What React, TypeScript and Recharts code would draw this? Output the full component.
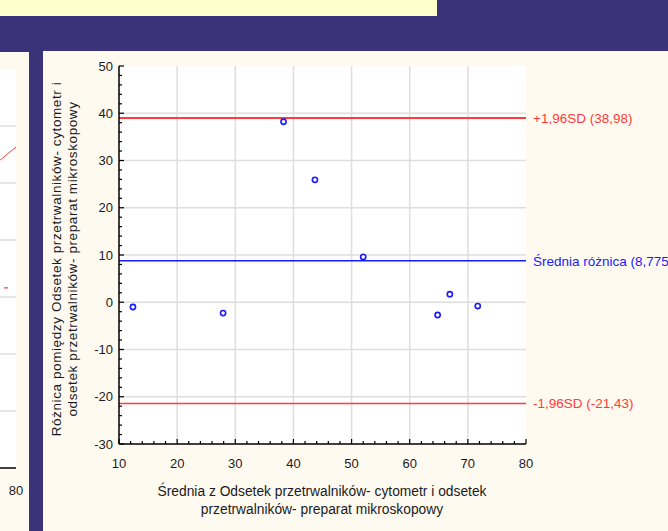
import React from "react";
import {
  ScatterChart,
  Scatter,
  LineChart,
  Line,
  XAxis,
  YAxis,
  ReferenceLine,
  ReferenceArea,
} from "recharts";

// Bland-Altman data: mean of the two methods vs difference
const meanValues = [12.4, 27.9, 38.3, 43.7, 52.0, 64.8, 66.9, 71.7];
const diffValues = [-1.0, -2.3, 38.2, 25.9, 9.6, -2.7, 1.7, -0.8];
const meanDiff = 8.775;
const upperLimit = 38.98;
const lowerLimit = -21.43;

const xDomain = [10, 80];
const yDomain = [-30, 50];
const xGridValues = [20, 30, 40, 50, 60, 70];
const yGridValues = [-20, -10, 0, 10, 20, 30, 40];
// minor ticks every 2 units, labels on multiples of 10
const xTicks = Array.from({ length: 36 }, (_, i) => 10 + 2 * i);
const yTicks = Array.from({ length: 41 }, (_, i) => -30 + 2 * i);

const upperLabel = "+1,96SD (38,98)";
const meanLabel = "Średnia różnica (8,775)";
const lowerLabel = "-1,96SD (-21,43)";
const xTitle = [
  "Średnia z Odsetek przetrwalników- cytometr i odsetek",
  "przetrwalników- preparat mikroskopowy",
];
const yTitle = [
  "Różnica pomiędzy Odsetek przetrwalników- cytometr i",
  "odsetek przetrwalników- preparat mikroskopowy",
];

// right edge of the neighbouring (cut off) chart
const leftFit = [
  { x: 70, y: 48.1 },
  { x: 80, y: 56.3 },
];
const leftDash = [
  { x: 77.9, y: 31.6 },
  { x: 78.6, y: 31.6 },
];
const leftGridValues = [10, 20, 30, 40, 50, 60];
const leftYTicks = Array.from({ length: 36 }, (_, i) => 2 * i);

const points = meanValues.map((m, i) => ({ x: m, y: diffValues[i] }));

const BG = "#3b3379";
const PANEL = "#fffaf0";
const GRID = "#dedede";
const RED = "#ff3b3b";
const BLUE = "#1a1aff";
const TEXT = "#1a1a24";
const FONT = '"Liberation Sans", Arial, sans-serif';

// plot box inside the main chart svg
const P = { left: 76, top: 15, right: 483, bottom: 393 };

const makeXTick = (edge: "top" | "bottom") => (props: any) => {
  const { x, payload } = props;
  const v = payload.value;
  const major = v % 10 === 0;
  const len = major ? 5 : 3;
  const y0 = edge === "bottom" ? P.bottom : P.top;
  const y1 = edge === "bottom" ? y0 - len : y0 + len;
  return (
    <g>
      <line x1={x} x2={x} y1={y0} y2={y1} stroke="#000" strokeWidth={1.2} />
      {edge === "bottom" && major && (
        <text
          x={x}
          y={P.bottom + 19}
          dy="0.35em"
          textAnchor="middle"
          fontSize={13}
          fontFamily={FONT}
          fill={TEXT}
        >
          {v}
        </text>
      )}
    </g>
  );
};

const makeYTick = (edge: "left" | "right", plotRight = P.right, withLabels = true) => (props: any) => {
  const { y, payload } = props;
  const v = payload.value;
  const major = v % 10 === 0;
  const len = major ? 5 : 3;
  const x0 = edge === "left" ? P.left : plotRight;
  const x1 = edge === "left" ? x0 + len : x0 - len;
  return (
    <g>
      <line x1={x0} x2={x1} y1={y} y2={y} stroke="#000" strokeWidth={1.2} />
      {edge === "left" && withLabels && major && (
        <text
          x={P.left - 6}
          y={y}
          dy="0.35em"
          textAnchor="end"
          fontSize={13}
          fontFamily={FONT}
          fill={TEXT}
        >
          {v}
        </text>
      )}
    </g>
  );
};

const XTitle = () => (
  <g>
    {xTitle.map((t, i) => (
      <text
        key={i}
        x={279}
        y={445 + i * 18}
        textAnchor="middle"
        fontSize={13.8}
        fontFamily={FONT}
        fill={TEXT}
      >
        {t}
      </text>
    ))}
  </g>
);

const YTitle = () => (
  <g>
    {yTitle.map((t, i) => {
      const cx = 13 + i * 16;
      const cy = 208;
      return (
        <text
          key={i}
          x={cx}
          y={cy}
          dy="0.35em"
          textAnchor="middle"
          fontSize={13.5}
          letterSpacing={0.6}
          fontFamily={FONT}
          fill={TEXT}
          transform={`rotate(-90 ${cx} ${cy})`}
        >
          {t}
        </text>
      );
    })}
  </g>
);

const frame = { stroke: "#000", strokeWidth: 1.5 };

function Dot(props: any) {
  const { cx, cy } = props;
  return <circle cx={cx} cy={cy} r={2.6} fill="none" stroke={BLUE} strokeWidth={1.6} />;
}

function LeftChart() {
  return (
    <div style={{ position: "absolute", left: -384, top: 0 }}>
      <LineChart width={420} height={479} margin={{ top: 17, right: 20, left: 0, bottom: 33 }}>
        <ReferenceArea x1={10} x2={80} y1={0} y2={70} fill="#fff" fillOpacity={1} stroke="none" />
        {leftGridValues.map((v) => (
          <ReferenceLine key={v} y={v} stroke={GRID} strokeWidth={1.5} />
        ))}
        <XAxis
          type="number"
          dataKey="x"
          domain={[10, 80]}
          ticks={[80]}
          interval={0}
          axisLine={frame}
          tickLine={false}
          tickMargin={12}
          tick={{ fontSize: 13, fill: TEXT, fontFamily: FONT }}
        />
        <XAxis xAxisId="top" orientation="top" type="number" domain={[10, 80]} height={0} axisLine={frame} tick={false} tickLine={false} />
        <YAxis type="number" domain={[0, 70]} hide />
        <YAxis
          yAxisId="right"
          orientation="right"
          type="number"
          domain={[0, 70]}
          width={0}
          ticks={leftYTicks}
          interval={0}
          axisLine={frame}
          tickLine={false}
          tick={makeYTick("right", 400, false)}
        />
        <Line data={leftFit} dataKey="y" stroke={RED} strokeWidth={1} dot={false} isAnimationActive={false} />
        <Line data={leftDash} dataKey="y" stroke={RED} strokeWidth={1.2} dot={false} isAnimationActive={false} />
      </LineChart>
    </div>
  );
}

export default function App() {
  return (
    <div
      style={{
        position: "fixed",
        left: 0,
        top: 0,
        width: 668,
        height: 531,
        background: BG,
        overflow: "hidden",
        fontFamily: FONT,
      }}
    >
      <div style={{ position: "absolute", left: 0, top: 0, width: 437, height: 16, background: "#ffffcc" }} />
      <div style={{ position: "absolute", left: 0, top: 52, width: 29, height: 479, background: PANEL, overflow: "hidden" }}>
        <LeftChart />
      </div>
      <div style={{ position: "absolute", left: 43, top: 51, width: 625, height: 480, background: PANEL, overflow: "hidden" }}>
        <ScatterChart width={625} height={480} margin={{ top: 15, right: 142, left: 36, bottom: 57 }}>
          <ReferenceArea x1={10} x2={80} y1={-30} y2={50} fill="#fff" fillOpacity={1} stroke="none" />
          {xGridValues.map((v) => (
            <ReferenceLine key={`gx${v}`} x={v} stroke={GRID} strokeWidth={1.5} />
          ))}
          {yGridValues.map((v) => (
            <ReferenceLine key={`gy${v}`} y={v} stroke={GRID} strokeWidth={1.5} />
          ))}
          <XAxis
            type="number"
            dataKey="x"
            domain={xDomain}
            ticks={xTicks}
            interval={0}
            height={30}
            axisLine={frame}
            tickLine={false}
            tick={makeXTick("bottom")}
            label={XTitle}
          />
          <XAxis
            xAxisId="top"
            orientation="top"
            type="number"
            domain={xDomain}
            ticks={xTicks}
            interval={0}
            height={0}
            axisLine={frame}
            tickLine={false}
            tick={makeXTick("top")}
          />
          <YAxis
            type="number"
            dataKey="y"
            domain={yDomain}
            ticks={yTicks}
            interval={0}
            width={40}
            axisLine={frame}
            tickLine={false}
            tick={makeYTick("left")}
            label={YTitle}
          />
          <YAxis
            yAxisId="right"
            orientation="right"
            type="number"
            domain={yDomain}
            ticks={yTicks}
            interval={0}
            width={0}
            axisLine={frame}
            tickLine={false}
            tick={makeYTick("right")}
          />
          <ReferenceLine
            y={upperLimit}
            stroke={RED}
            strokeWidth={2}
            label={{ value: upperLabel, position: "right", offset: 7, fill: RED, fontSize: 13.5, fontFamily: FONT }}
          />
          <ReferenceLine
            y={meanDiff}
            stroke={BLUE}
            strokeWidth={1.5}
            label={{ value: meanLabel, position: "right", offset: 7, fill: BLUE, fontSize: 13.5, fontFamily: FONT }}
          />
          <ReferenceLine
            y={lowerLimit}
            stroke={RED}
            strokeWidth={1.5}
            label={{ value: lowerLabel, position: "right", offset: 7, fill: RED, fontSize: 13.5, fontFamily: FONT }}
          />
          <Scatter data={points} shape={<Dot />} isAnimationActive={false} />
        </ScatterChart>
      </div>
    </div>
  );
}
